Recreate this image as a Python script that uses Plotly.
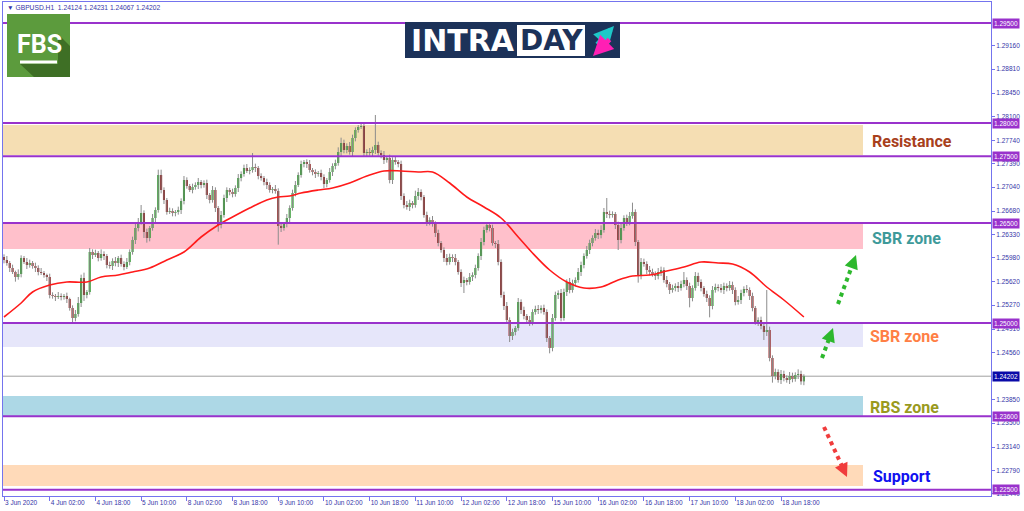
import plotly.graph_objects as go

# ---------------- data ----------------
closes = [
    1.25945, 1.25900, 1.25825, 1.25765, 1.25690, 1.25735, 1.25975, 1.25915, 1.25870, 1.25900,
    1.25855, 1.25825, 1.25765, 1.25750, 1.25720, 1.25690, 1.25420, 1.25405, 1.25390, 1.25405,
    1.25390, 1.25405, 1.25360, 1.25225, 1.25075, 1.25135, 1.25300, 1.25675, 1.25420, 1.25465,
    1.26065, 1.26020, 1.26050, 1.25975, 1.26035, 1.26005, 1.25870, 1.25855, 1.25930, 1.25900,
    1.25975, 1.25885, 1.25840, 1.25915, 1.26065, 1.26245, 1.26425, 1.26515, 1.26650, 1.26365,
    1.26275, 1.26425, 1.26575, 1.26695, 1.27220, 1.26995, 1.26845, 1.26665, 1.26680, 1.26650,
    1.26665, 1.26695, 1.26830, 1.27145, 1.27055, 1.26995, 1.27040, 1.27070, 1.27115, 1.27070,
    1.27100, 1.26920, 1.26845, 1.26995, 1.26725, 1.26470, 1.26620, 1.26875, 1.26995, 1.26965,
    1.26935, 1.27025, 1.27175, 1.27235, 1.27325, 1.27280, 1.27295, 1.27340, 1.27325, 1.27205,
    1.27175, 1.27115, 1.27070, 1.26995, 1.27010, 1.26980, 1.26455, 1.26425, 1.26485, 1.26575,
    1.26725, 1.26950, 1.27070, 1.27220, 1.27385, 1.27415, 1.27385, 1.27295, 1.27265, 1.27235,
    1.27250, 1.27190, 1.27085, 1.27145, 1.27265, 1.27355, 1.27400, 1.27565, 1.27700, 1.27595,
    1.27655, 1.27565, 1.27775, 1.27895, 1.27940, 1.27955, 1.27550, 1.27565, 1.27550, 1.27595,
    1.27670, 1.27550, 1.27520, 1.27445, 1.27475, 1.27145, 1.27445, 1.27415, 1.27385, 1.26905,
    1.26770, 1.26740, 1.26800, 1.26770, 1.26905, 1.26965, 1.26890, 1.26620, 1.26515, 1.26545,
    1.26485, 1.26350, 1.26200, 1.26095, 1.25975, 1.25915, 1.25990, 1.25975, 1.25915, 1.25765,
    1.25600, 1.25645, 1.25615, 1.25690, 1.25720, 1.25825, 1.26005, 1.26215, 1.26395, 1.26470,
    1.26425, 1.26200, 1.26185, 1.25915, 1.25420, 1.25255, 1.25045, 1.24805, 1.24865, 1.24925,
    1.25315, 1.25195, 1.25105, 1.25045, 1.25015, 1.25165, 1.25210, 1.25195, 1.25225, 1.25165,
    1.24775, 1.24625, 1.25075, 1.25420, 1.25450, 1.25075, 1.25465, 1.25615, 1.25495, 1.25600,
    1.25645, 1.25765, 1.25870, 1.26005, 1.26095, 1.26200, 1.26275, 1.26350, 1.26320, 1.26395,
    1.26665, 1.26635, 1.26620, 1.26635, 1.26470, 1.26245, 1.26425, 1.26575, 1.26515, 1.26605,
    1.26665, 1.26215, 1.25705, 1.25915, 1.25885, 1.25795, 1.25765, 1.25735, 1.25705, 1.25765,
    1.25795, 1.25645, 1.25585, 1.25495, 1.25525, 1.25555, 1.25525, 1.25585, 1.25645, 1.25555,
    1.25375, 1.25525, 1.25705, 1.25615, 1.25525, 1.25435, 1.25375, 1.25255, 1.25495, 1.25540,
    1.25525, 1.25495, 1.25555, 1.25525, 1.25570, 1.25495, 1.25315, 1.25345, 1.25450, 1.25510,
    1.25495, 1.25405, 1.25225, 1.25015, 1.25045, 1.24955, 1.24865, 1.24895, 1.24475, 1.24205,
    1.24265, 1.24145, 1.24235, 1.24175, 1.24145, 1.24205, 1.24160, 1.24220, 1.24235, 1.24124,
    1.24202,
]
first_open = 1.25990

upper_wick_pips = [
    4, 6, 3, 5, 2, 7, 4, 3, 6, 5,
    3, 5, 4, 6, 3, 2, 5, 4, 3, 6,
    4, 3, 5, 2, 4, 6, 9, 5, 8, 3,
    6, 4, 5, 3, 7, 4, 3, 5, 4, 6,
    3, 5, 4, 6, 4, 5, 7, 6, 12, 4,
    5, 3, 6, 4, 8, 8, 4, 3, 5, 4,
    3, 5, 4, 6, 4, 3, 5, 4, 6, 3,
    4, 5, 3, 6, 4, 3, 6, 5, 4, 3,
    5, 4, 6, 4, 5, 6, 4, 21, 5, 3,
    4, 3, 5, 4, 3, 6, 4, 5, 3, 6,
    4, 5, 6, 4, 5, 3, 4, 6, 3, 4,
    3, 5, 4, 3, 6, 4, 5, 7, 8, 5,
    4, 6, 5, 4, 3, 3, 5, 4, 6, 5,
    45, 5, 4, 6, 3, 5, 4, 6, 3, 5,
    4, 6, 5, 3, 8, 6, 4, 3, 5, 4,
    6, 4, 5, 3, 4, 6, 5, 4, 6, 3,
    4, 5, 3, 6, 4, 5, 4, 6, 5, 4,
    4, 5, 3, 6, 4, 5, 6, 4, 5, 3,
    6, 4, 5, 3, 6, 4, 5, 6, 4, 5,
    4, 3, 6, 5, 4, 6, 5, 4, 6, 5,
    4, 6, 5, 4, 6, 5, 4, 6, 5, 7,
    6, 21, 5, 4, 3, 5, 6, 4, 5, 6,
    14, 4, 3, 6, 5, 4, 6, 5, 4, 6,
    5, 4, 6, 3, 5, 4, 6, 5, 12, 4,
    5, 4, 6, 5, 4, 3, 5, 4, 6, 5,
    4, 6, 5, 4, 6, 5, 4, 6, 5, 4,
    6, 4, 5, 3, 4, 5, 4, 60, 5, 4,
    5, 4, 6, 5, 4, 6, 5, 4, 7, 5,
    2.9,
]
lower_wick_pips = [
    5, 4, 6, 3, 7, 4, 5, 3, 6, 4,
    4, 6, 5, 3, 4, 6, 5, 4, 6, 3,
    5, 4, 6, 4, 6, 5, 4, 6, 9, 5,
    4, 6, 3, 5, 4, 6, 5, 4, 6, 5,
    6, 4, 5, 3, 5, 4, 6, 5, 4, 9,
    7, 5, 4, 6, 4, 5, 6, 4, 3, 5,
    5, 4, 6, 5, 4, 3, 5, 4, 6, 5,
    4, 6, 5, 4, 6, 10, 5, 4, 6, 5,
    5, 4, 6, 5, 4, 3, 5, 4, 6, 5,
    4, 5, 6, 4, 5, 4, 28, 6, 4, 5,
    6, 4, 5, 3, 4, 5, 6, 4, 5, 6,
    4, 5, 6, 5, 4, 6, 5, 4, 6, 5,
    5, 4, 6, 5, 4, 3, 5, 6, 4, 5,
    6, 4, 5, 6, 4, 5, 6, 4, 5, 6,
    5, 4, 6, 5, 4, 6, 5, 4, 6, 5,
    4, 6, 5, 4, 6, 5, 4, 6, 5, 4,
    6, 15, 5, 4, 6, 5, 4, 6, 5, 4,
    5, 4, 6, 5, 4, 6, 5, 9, 6, 5,
    4, 6, 5, 4, 6, 5, 4, 6, 5, 4,
    6, 8, 5, 4, 6, 5, 4, 6, 5, 4,
    5, 4, 6, 5, 4, 6, 5, 4, 6, 5,
    4, 6, 5, 4, 6, 15, 5, 4, 6, 5,
    4, 6, 10, 5, 4, 6, 5, 4, 6, 5,
    6, 4, 5, 6, 4, 5, 6, 4, 5, 6,
    14, 5, 4, 6, 5, 4, 6, 17, 5, 4,
    5, 4, 6, 5, 4, 6, 5, 4, 6, 5,
    4, 6, 5, 4, 6, 5, 12, 6, 5, 10,
    5, 4, 6, 5, 4, 6, 5, 4, 6, 5,
    5.7,
]

# moving average line, read at sample bars
ma_bars = [0, 6, 10, 16, 22, 29, 34, 40, 45, 51, 57, 63, 69, 75, 80, 86, 92, 96, 100,
           104, 110, 115, 121, 127, 133, 139, 145, 150, 156, 162, 168, 174, 180, 185,
           191, 197, 203, 209, 215, 220, 226, 232, 238, 244, 250, 255, 261, 267, 273, 280]
ma_values = [1.25090, 1.25300, 1.25465, 1.25570, 1.25615, 1.25615, 1.25690, 1.25720, 1.25765,
             1.25825, 1.25945, 1.26065, 1.26290, 1.26470, 1.26590, 1.26725, 1.26845, 1.26890,
             1.26905, 1.26950, 1.26995, 1.27025, 1.27100, 1.27205, 1.27280, 1.27280, 1.27265,
             1.27265, 1.27100, 1.26890, 1.26740, 1.26575, 1.26290, 1.26050, 1.25795, 1.25615,
             1.25525, 1.25540, 1.25645, 1.25705, 1.25720, 1.25780, 1.25840, 1.25915, 1.25900,
             1.25885, 1.25765, 1.25540, 1.25345, 1.25090]

x_tick_bars = [0, 16, 32, 48, 64, 80, 96, 112, 128, 144, 160, 176, 192, 208, 224, 240, 256, 272]
x_tick_labels = ["3 Jun 2020", "4 Jun 02:00", "4 Jun 18:00", "5 Jun 10:00", "8 Jun 02:00",
                 "8 Jun 18:00", "9 Jun 10:00", "10 Jun 02:00", "10 Jun 18:00", "11 Jun 10:00",
                 "12 Jun 02:00", "12 Jun 18:00", "15 Jun 10:00", "16 Jun 02:00", "16 Jun 18:00",
                 "17 Jun 10:00", "18 Jun 02:00", "18 Jun 18:00"]
y_tick_values = [1.29160, 1.28810, 1.28450, 1.28100, 1.27740, 1.27390, 1.27040, 1.26680,
                 1.26330, 1.25980, 1.25620, 1.25270, 1.24910, 1.24560, 1.23850, 1.23500,
                 1.23140, 1.22790, 1.22440]
level_prices = [1.29500, 1.28000, 1.27500, 1.26500, 1.25000, 1.23600, 1.22500]
current_price = 1.24202
symbol = "GBPUSD.H1"
header_values = ["1.24124", "1.24231", "1.24067", "1.24202"]

zone_labels = ["Resistance", "SBR zone", "SBR zone", "RBS zone", "Support"]
zone_low = [1.27520, 1.26110, 1.24640, 1.23605, 1.22555]
zone_high = [1.27970, 1.26485, 1.24985, 1.23905, 1.22870]
zone_label_price = [1.27730, 1.26275, 1.24805, 1.23740, 1.22705]

# ---------------- styling ----------------
zone_fill = ["#F5DEB3", "#FFC0CB", "#E6E6FA", "#ADD8E6", "#FFDAB9"]
zone_text = ["#A8401C", "#3E9A9A", "#FF7F45", "#9A9A1E", "#1010F0"]
zone_label_px = [870, 870, 868, 868, 871]
FRAME = "#7474EE"
TXT = "#3535A8"
LEVEL = "#9932CC"
BULL = "#1E9E1E"
BEAR = "#8B0A0A"
WICK = "#8C8C8C"

W, H = 1024, 511
L, T, R, B = 3, 2, 991, 496


def px(x):
    return (x - L) / (R - L)


def py(y):
    return (B - y) / (B - T)


n = len(closes)
idx = list(range(n))
opens = [first_open] + closes[:-1]
highs = [max(o, c) + u * 1e-4 for o, c, u in zip(opens, closes, upper_wick_pips)]
lows = [min(o, c) - l * 1e-4 for o, c, l in zip(opens, closes, lower_wick_pips)]

wx, wy = [], []
for i in idx:
    wx += [i, i, None]
    wy += [lows[i], highs[i], None]

fig = go.Figure()
fig.add_trace(go.Scatter(x=wx, y=wy, mode="lines", line=dict(color=WICK, width=1),
                         hoverinfo="skip", showlegend=False))
fig.add_trace(go.Bar(
    x=idx,
    y=[max(abs(c - o), 0.00002) for o, c in zip(opens, closes)],
    base=[min(o, c) for o, c in zip(opens, closes)],
    width=0.72,
    marker=dict(color=[BULL if c >= o else BEAR for o, c in zip(opens, closes)], line=dict(width=0)),
    hoverinfo="skip", showlegend=False))
fig.add_trace(go.Scatter(x=ma_bars, y=ma_values, mode="lines",
                         line=dict(color="#FF1A1A", width=1.6, shape="spline", smoothing=1.0),
                         hoverinfo="skip", showlegend=False))

shapes = []
annotations = []

# zones
for lo, hi, col in zip(zone_low, zone_high, zone_fill):
    shapes.append(dict(type="rect", xref="paper", yref="y", x0=0, x1=px(863), y0=lo, y1=hi,
                       fillcolor=col, line=dict(width=0), layer="below"))
# current price line
shapes.append(dict(type="line", xref="paper", yref="y", x0=0, x1=1, y0=current_price,
                   y1=current_price, line=dict(color="#A0A0A0", width=1), layer="below"))
# level lines
for p in level_prices:
    shapes.append(dict(type="line", xref="paper", yref="y", x0=0, x1=1, y0=p, y1=p,
                       line=dict(color=LEVEL, width=2), layer="above"))

# zone labels
for lab, p, col, xl in zip(zone_labels, zone_label_price, zone_text, zone_label_px):
    annotations.append(dict(text="<b>%s</b>" % lab, xref="paper", yref="y", x=px(xl), y=p,
                            xanchor="left", yanchor="middle", showarrow=False,
                            font=dict(family="Roboto", size=16, color=col)))

# price labels on the right axis
for p in level_prices:
    annotations.append(dict(text="%.5f" % p, xref="paper", yref="y", x=px(992), y=p,
                            xanchor="left", yanchor="middle", showarrow=False,
                            bgcolor=LEVEL, borderpad=1,
                            font=dict(family="Liberation Sans", size=6.5, color="white")))
annotations.append(dict(text="%.5f" % current_price, xref="paper", yref="y", x=px(992),
                        y=current_price, xanchor="left", yanchor="middle", showarrow=False,
                        bgcolor="#0A0AA8", borderpad=1,
                        font=dict(family="Liberation Sans", size=6.5, color="white")))

# header
annotations.append(dict(text="\u25BC " + symbol + "  " + " ".join(header_values),
                        xref="paper", yref="paper", x=px(5), y=py(7), xanchor="left",
                        yanchor="middle", showarrow=False,
                        font=dict(family="Liberation Sans", size=6.7, color=TXT)))


# dashed arrows
def dashed_arrow(x0, y0, x1, y1, color):
    dx, dy = x1 - x0, y1 - y0
    ln = (dx * dx + dy * dy) ** 0.5
    ux, uy = dx / ln, dy / ln
    shapes.append(dict(type="line", xref="paper", yref="paper", x0=px(x0), y0=py(y0),
                       x1=px(x1 - 6 * ux), y1=py(y1 - 6 * uy),
                       line=dict(color=color, width=4, dash="4px,4px")))
    annotations.append(dict(text="", xref="paper", yref="paper", x=px(x1), y=py(y1),
                            ax=-9 * ux, ay=-9 * uy, showarrow=True, arrowhead=2,
                            arrowsize=1.1, arrowwidth=2.5, arrowcolor=color, standoff=0))


dashed_arrow(822, 358, 833, 328, "#2DB82D")
dashed_arrow(838, 304, 856, 255, "#2DB82D")
dashed_arrow(824, 427, 847, 477, "#F03C3C")

# FBS logo
shapes.append(dict(type="rect", xref="paper", yref="paper", x0=px(7), x1=px(70), y0=py(77),
                   y1=py(14), fillcolor="#5C9B3D", line=dict(width=0)))
pts = [(20, 64), (58, 64), (58, 34), (70, 46), (70, 77), (34, 77)]
path = "M " + " L ".join("%f,%f" % (px(a), py(b)) for a, b in pts) + " Z"
shapes.append(dict(type="path", xref="paper", yref="paper", path=path,
                   fillcolor="#3E6F25", line=dict(width=0)))
shapes.append(dict(type="rect", xref="paper", yref="paper", x0=px(20), x1=px(57), y0=py(63.5),
                   y1=py(60.5), fillcolor="white", line=dict(width=0)))
annotations.append(dict(text="<b>FBS</b>", xref="paper", yref="paper", x=px(39), y=py(44),
                        xanchor="center", yanchor="middle", showarrow=False,
                        font=dict(family="Roboto", size=25, color="white")))

# INTRADAY logo
shapes.append(dict(type="rect", xref="paper", yref="paper", x0=px(405), x1=px(620), y0=py(58),
                   y1=py(22), fillcolor="#1C3259", line=dict(width=0)))
shapes.append(dict(type="rect", xref="paper", yref="paper", x0=px(517), x1=px(585), y0=py(56),
                   y1=py(25), fillcolor="white", line=dict(width=0)))
annotations.append(dict(text="<b>INTRA</b>", xref="paper", yref="paper", x=px(409), y=py(40.5),
                        xanchor="left", yanchor="middle", showarrow=False,
                        font=dict(family="DejaVu Sans", size=30, color="white")))
annotations.append(dict(text="<b>DAY</b>", xref="paper", yref="paper", x=px(551), y=py(40.5),
                        xanchor="center", yanchor="middle", showarrow=False,
                        font=dict(family="DejaVu Sans", size=28, color="#1C3259")))
annotations.append(dict(text="", xref="paper", yref="paper", x=px(614), y=py(26),
                        ax=-18, ay=20, showarrow=True, arrowhead=2, arrowsize=0.8,
                        arrowwidth=5, arrowcolor="#1EC8C8", standoff=0))
annotations.append(dict(text="", xref="paper", yref="paper", x=px(593), y=py(56),
                        ax=18, ay=-18, showarrow=True, arrowhead=2, arrowsize=0.8,
                        arrowwidth=5, arrowcolor="#FF1FB4", standoff=0))

fig.update_layout(
    width=W, height=H, autosize=False,
    margin=dict(l=L, r=W - R, t=T, b=H - B, pad=0, autoexpand=False),
    paper_bgcolor="white", plot_bgcolor="white",
    showlegend=False, hovermode=False,
    shapes=shapes, annotations=annotations,
    xaxis=dict(range=[-0.35, 345.5], tickmode="array", tickvals=x_tick_bars,
               ticktext=x_tick_labels, ticklabelposition="outside right", tickangle=0,
               automargin=False,
               ticks="outside", ticklen=4, tickcolor=FRAME, showgrid=False, zeroline=False,
               showline=True, linecolor=FRAME, linewidth=1, mirror=True,
               tickfont=dict(family="Liberation Sans", size=6.5, color=TXT)),
    yaxis=dict(range=[1.22405, 1.29815], side="right", tickmode="array", automargin=False,
               tickvals=y_tick_values, ticktext=["%.5f" % v for v in y_tick_values],
               ticks="outside", ticklen=3, tickcolor=FRAME, showgrid=False, zeroline=False,
               showline=True, linecolor=FRAME, linewidth=1, mirror=True,
               tickfont=dict(family="Liberation Sans", size=6.5, color=TXT)),
)

fig.write_html("out.html", config={"displayModeBar": False},
               post_script="document.body.style.margin='0';document.body.style.overflow='hidden';")
